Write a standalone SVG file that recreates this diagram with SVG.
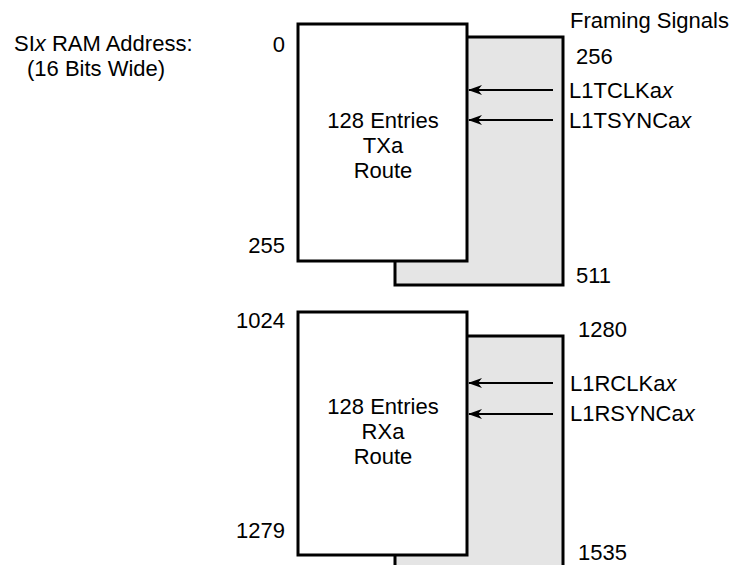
<svg xmlns="http://www.w3.org/2000/svg" width="742" height="565" viewBox="0 0 742 565">
<defs>
<style>
text{font-family:"Liberation Sans",Arial,sans-serif;font-size:22px;fill:#000}
.w{fill:#fff;stroke:#000;stroke-width:3}
.g{fill:#e5e5e5;stroke:#000;stroke-width:3}
.r{text-anchor:end}
.m{text-anchor:middle}
.a{stroke:#000;stroke-width:2;fill:none;marker-end:url(#ah)}
</style>
<marker id="ah" viewBox="0 0 14 10" refX="13" refY="5" markerWidth="14" markerHeight="10" markerUnits="userSpaceOnUse" orient="auto">
<path d="M0,0 L14,5 L0,10 L4,5 Z" fill="#000"/>
</marker>
</defs>
<text x="14" y="51">SI<tspan font-style="italic">x</tspan> RAM Address:</text>
<text x="27" y="76">(16 Bits Wide)</text>
<text x="570" y="28">Framing Signals</text>
<g id="tx-frame">
<rect class="g" x="395" y="37" width="168" height="248"/>
<text x="576" y="64">256</text>
<text x="576" y="283">511</text>
</g>
<g id="tx-route">
<rect class="w" x="298" y="24" width="169" height="237"/>
<text class="r" x="285" y="52">0</text>
<text class="r" x="285" y="253">255</text>
<text class="m" x="383" y="128">128 Entries</text>
<text class="m" x="383" y="153">TXa</text>
<text class="m" x="383" y="178">Route</text>
</g>
<g id="rx-frame">
<rect class="g" x="395" y="336" width="168" height="240"/>
<text x="578" y="337">1280</text>
<text x="578" y="560">1535</text>
</g>
<g id="rx-route">
<rect class="w" x="298" y="312" width="169" height="243"/>
<text class="r" x="285" y="328">1024</text>
<text class="r" x="285" y="538">1279</text>
<text class="m" x="383" y="414">128 Entries</text>
<text class="m" x="383" y="439">RXa</text>
<text class="m" x="383" y="464">Route</text>
</g>
<g id="connectors">
<line class="a" x1="553" y1="90" x2="469" y2="90"/>
<line class="a" x1="553" y1="120" x2="469" y2="120"/>
<line class="a" x1="553" y1="383" x2="469" y2="383"/>
<line class="a" x1="553" y1="414" x2="469" y2="414"/>
</g>
<text x="569" y="98">L1TCLKa<tspan font-style="italic">x</tspan></text>
<text x="569" y="128">L1TSYNCa<tspan font-style="italic">x</tspan></text>
<text x="570" y="391">L1RCLKa<tspan font-style="italic">x</tspan></text>
<text x="570" y="421">L1RSYNCa<tspan font-style="italic">x</tspan></text>
</svg>
